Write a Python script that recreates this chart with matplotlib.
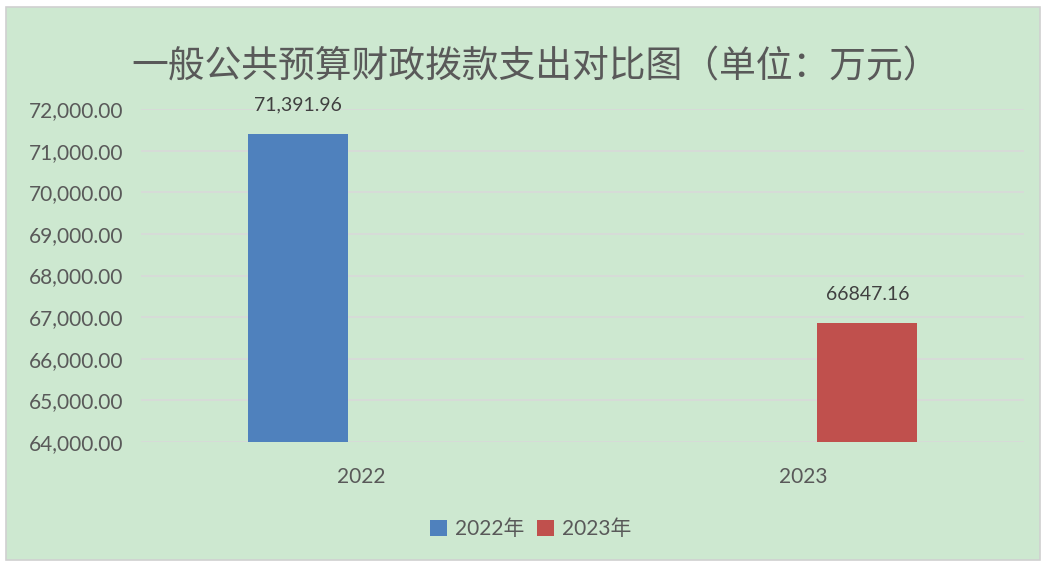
import matplotlib
matplotlib.use("Agg")
import matplotlib.pyplot as plt
from matplotlib.patches import Rectangle, Patch

# data
categories = ["2022", "2023"]
series_names = ["2022年", "2023年"]
values_2022 = [71391.96, None]
values_2023 = [None, 66847.16]
value_labels = ["71,391.96", "66847.16"]
y_ticks = [64000, 65000, 66000, 67000, 68000, 69000, 70000, 71000, 72000]
title = "一般公共预算财政拨款支出对比图（单位：万元）"

bg = "#cde8d0"
text_color = "#595959"
colors = ["#4f81bd", "#c0504d"]
fonts = ["Lato", "Noto Sans CJK SC", "DejaVu Sans"]

fig = plt.figure(figsize=(10.46, 5.65), dpi=100)
fig.patch.set_facecolor("white")

# chart area with grey frame
W, H = 1046.0, 565.0
fig.patches.append(Rectangle((6 / W, 1 - 560 / H), (1040 - 6) / W, (560 - 7) / H,
                             transform=fig.transFigure, facecolor=bg,
                             edgecolor="#d0d0d0", linewidth=1.2, zorder=-10))

ax = fig.add_axes([141 / W, 1 - 442 / H, (1024 - 141) / W, (442 - 109) / H])
ax.set_facecolor("none")

width = 0.2265
offset = 0.145
for i, (vals, name, c) in enumerate(zip([values_2022, values_2023], series_names, colors)):
    for j, v in enumerate(vals):
        if v is None:
            continue
        x = j + (-offset if i == 0 else offset)
        ax.bar(x, v - y_ticks[0], width=width, bottom=y_ticks[0], color=c, zorder=3)
        ax.text(x, v + 700, value_labels[j], ha="center", va="center",
                fontsize=14, color="#404040", family=fonts)

ax.set_xlim(-0.5, 1.5)
ax.set_ylim(y_ticks[0], y_ticks[-1])
ax.set_yticks(y_ticks)
ax.set_yticklabels(["{:,.2f}".format(t) for t in y_ticks], family=fonts,
                   fontsize=15, color=text_color)
ax.set_xticks(range(len(categories)))
ax.set_xticklabels(categories, family=fonts, fontsize=15, color=text_color)
ax.tick_params(axis="both", length=0)
ax.tick_params(axis="y", pad=13)
ax.tick_params(axis="x", pad=18)
ax.yaxis.grid(True, color="#d9d9d9", linewidth=1.2, zorder=0)
ax.set_axisbelow(True)
for s in ax.spines.values():
    s.set_visible(False)

fig.text(536 / W, 1 - 67 / H, title, ha="center", va="center", fontsize=26.5,
         color=text_color, family=["Noto Sans CJK SC"], fontweight="light")

handles = [Patch(facecolor=c, edgecolor="none") for c in colors]
leg = fig.legend(handles, series_names, loc="center", bbox_to_anchor=(531 / W, 1 - 529 / H),
                 ncol=2, frameon=False, handlelength=0.8, handleheight=0.8,
                 handletextpad=0.4, columnspacing=0.6,
                 prop={"family": fonts, "size": 15})
for t in leg.get_texts():
    t.set_color(text_color)

fig.savefig("out.png", dpi=100, facecolor="white")
